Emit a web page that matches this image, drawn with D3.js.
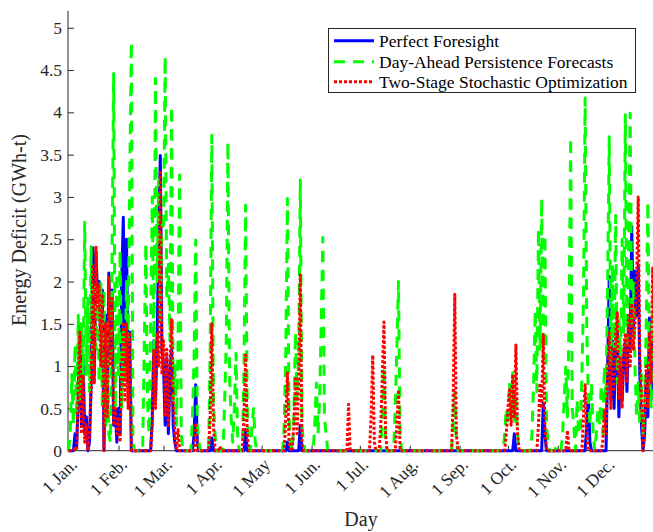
<!DOCTYPE html>
<html>
<head>
<meta charset="utf-8">
<script src="https://cdn.jsdelivr.net/npm/d3@7"></script>
<style>
  html, body { margin: 0; padding: 0; background: #fff; }
  svg { display: block; }
</style>
</head>
<body>
<svg id="chart" width="653" height="532"></svg>
<script>
// ---------------- DATA (day of year, energy deficit in GWh-t) ----------------
const monthTickDays = [1, 32, 60, 91, 121, 152, 182, 213, 244, 274, 305, 335];
const monthTickLabels = ["1 Jan.", "1 Feb.", "1 Mar.", "1 Apr.", "1 May", "1 Jun.", "1 Jul.", "1 Aug.", "1 Sep.", "1 Oct.", "1 Nov.", "1 Dec."];
const yTickValues = [0, 0.5, 1, 1.5, 2, 2.5, 3, 3.5, 4, 4.5, 5];
const seriesNames = ["Perfect Foresight", "Day-Ahead Persistence Forecasts", "Two-Stage Stochastic Optimization"];

const perfectForesight = [
  [1,0],[4,0],[5,0.2],[6,0.05],[7,0.6],[8,1.48],[9,0.3],[10,1.1],[11,0.2],[12,0.4],[13,0],[14,0.1],[15,0.8],[16,2.4],[17,0.9],[18,2.35],[19,1.8],[20,2.0],[21,1.3],[22,1.9],[23,0],[24,1.6],[25,0.5],[26,2.1],[27,1.2],[28,1.9],[29,0.3],[30,0.5],[31,0.1],[32,0.5],[33,0.2],[34,2.0],[35,2.76],[36,1.0],[37,2.5],[38,0.8],[39,1.4],[40,0],
  [52,0],[53,0.4],[54,1.3],[55,0.6],[56,1.3],[57,2.5],[58,3.49],[59,1.2],[60,1.0],[61,0.3],[62,1.1],[63,0.2],[64,0.9],[65,1.2],[66,0.3],[67,0.1],[68,0],
  [78,0],[79,0.2],[80,0.78],[81,0.1],[82,0],
  [89,0],[90,0.15],[91,0],
  [110,0],[111,0.25],[112,0],
  [136,0],[137,0.1],[138,0],
  [144,0],[145,0.3],[146,0],
  [277,0],[278,0.2],[279,0],
  [295,0],[296,0.56],[297,0.2],[298,0],
  [322,0],[323,0.3],[324,0.66],[325,0.1],[326,0],
  [335,0],[336,1.0],[337,2.06],[338,0.6],[339,1.3],[340,0.5],[341,1.2],[342,1.4],[343,0.4],[344,1.0],[345,0.6],[346,1.1],[347,1.3],[348,0.7],[349,1.5],[350,1.2],[351,2.65],[352,1.4],[353,2.12],[354,1.6],[355,2.2],[356,0.9],[357,0.3],[358,0],[359,0.2],[360,0.9],[361,0.4],[362,1.57],[363,0.6],[364,1.4],[365,1.0]
];

const dayAheadPersistence = [
  [1,0],[2,0.2],[3,0.9],[4,0.3],[5,1.25],[6,0.4],[7,1.6],[8,0.6],[9,1.55],[10,0.8],[11,2.7],[12,0.9],[13,1.8],[14,0.7],[15,2.41],[16,1.0],[17,2.0],[18,1.2],[19,1.95],[20,0.8],[21,1.98],[22,0.5],[23,1.9],[24,0.3],[25,1.5],[26,0.2],[27,0.1],[28,2.3],[29,4.46],[30,0.5],[31,2.1],[32,0.9],[33,2.37],[34,0.5],[35,1.4],[36,0.8],[37,2.0],[38,1.3],[39,3.2],[40,4.83],[41,0.1],[42,0],
  [47,0],[48,1.2],[49,2.45],[50,0.6],[51,0.2],[52,1.5],[53,3.0],[54,1.1],[55,4.4],[56,2.0],[57,3.2],[58,1.5],[59,2.7],[60,2.6],[61,4.66],[62,1.8],[63,2.2],[64,1.3],[65,4.07],[66,0.6],[67,1.0],[68,0.3],[69,1.2],[70,3.26],[71,0.2],[72,0],
  [77,0],[78,0.4],[79,1.1],[80,2.49],[81,0.3],[82,0.1],[83,0],
  [88,0],[89,1.2],[90,3.73],[91,0.6],[92,0.2],[93,0],
  [97,0],[98,0.6],[99,1.3],[100,3.65],[101,0.9],[102,0.4],[103,0.1],[104,0.5],[105,1.15],[106,0.2],[107,0],
  [109,0],[110,1.0],[111,2.9],[112,0.5],[113,0.1],[114,0],[115,0.3],[116,0.5],[117,0.1],[118,0],
  [134,0],[135,0.3],[136,1.2],[137,2.98],[138,0.4],[139,0.1],[140,0],[141,0.4],[142,1.4],[143,0.6],[144,1.1],[145,3.2],[146,0.3],[147,0.1],[148,0],
  [153,0],[154,0.3],[155,0.8],[156,0.2],[157,0.6],[158,1.5],[159,2.52],[160,0.4],[161,0.2],[162,0],
  [195,0],[196,0.4],[197,1.0],[198,0.1],[199,0],
  [203,0],[204,0.5],[205,1.2],[206,2.0],[207,0.2],[208,0],
  [239,0],[240,0.3],[241,0.7],[242,0.1],[243,0],
  [271,0],[272,0.2],[273,0.5],[274,0.3],[275,0.8],[276,0.4],[277,0.92],[278,0.3],[279,0.6],[280,0.2],[281,0],
  [288,0],[289,0.2],[290,0.8],[291,1.66],[292,0.7],[293,2.62],[294,1.2],[295,2.98],[296,1.1],[297,2.55],[298,0.3],[299,0.1],[300,0],
  [303,0],[304,0.05],[305,0],
  [307,0],[308,0.2],[309,0.6],[310,0.99],[311,0.4],[312,1.5],[313,3.7],[314,0.5],[315,0.3],[316,0],[317,0.6],[318,0.2],[319,0.2],[320,0.9],[321,1.8],[322,4.17],[323,1.5],[324,0.6],[325,0.3],[326,0.8],[327,0.2],[328,0],
  [329,0.2],[330,0.5],[331,0.3],[332,0.78],[333,0.2],[334,1.0],[335,0.6],[336,2.0],[337,3.71],[338,1.0],[339,2.2],[340,1.2],[341,2.78],[342,0.8],[343,1.6],[344,1.0],[345,2.5],[346,1.4],[347,3.97],[348,1.2],[349,2.4],[350,3.99],[351,1.5],[352,2.0],[353,1.0],[354,0.4],[355,0.8],[356,0.3],[357,0.9],[358,0.2],[359,0.6],[360,1.5],[361,2.94],[362,1.0],[363,0.5],[364,1.8],[365,0.8]
];

const twoStageStochastic = [
  [1,0],[4,0],[5,0.05],[6,0],[7,0.8],[8,1.4],[9,0.2],[10,0.9],[11,0.1],[12,0.3],[13,0],[14,0.2],[15,0.7],[16,2.2],[17,0.8],[18,2.42],[19,1.7],[20,1.95],[21,1.0],[22,1.85],[23,0],[24,1.5],[25,0.4],[26,2.05],[27,1.0],[28,1.8],[29,0.3],[30,0.5],[31,0.2],[32,0.4],[33,0.1],[34,1.0],[35,1.52],[36,0.6],[37,1.5],[38,0.5],[39,1.4],[40,0],
  [52,0],[53,0.3],[54,1.2],[55,0.5],[56,1.4],[57,1.0],[58,3.29],[59,0.9],[60,1.3],[61,0.4],[62,1.2],[63,0.3],[64,1.0],[65,1.55],[66,0.6],[67,0.2],[68,0],[69,0.25],[70,0],
  [79,0],[80,0.33],[81,0],
  [88,0],[89,0.4],[90,1.5],[91,0.3],[92,0],
  [94,0],[95,0.05],[96,0],
  [109,0],[110,0.4],[111,1.13],[112,0.2],[113,0],
  [135,0],[136,0.4],[137,0.92],[138,0.1],[139,0],
  [140,0],[141,0.3],[142,0.85],[143,0.2],[144,0.8],[145,2.08],[146,0.1],[147,0],
  [174,0],[175,0.55],[176,0],
  [188,0],[189,0.4],[190,1.13],[191,0.1],[192,0],
  [194,0],[195,0.3],[196,0.9],[197,1.52],[198,0.2],[199,0],
  [204,0],[205,0.3],[206,0.72],[207,0],
  [239,0],[240,0.6],[241,1.85],[242,0.2],[243,0],
  [272,0],[273,0.2],[274,0.5],[275,0.72],[276,0.3],[277,0.9],[278,0.4],[279,1.25],[280,0.2],[281,0],
  [292,0],[293,0.3],[294,0.8],[295,0.5],[296,1.37],[297,0.3],[298,0],
  [310,0],[311,0.24],[312,0],
  [320,0],[321,0.4],[322,0.78],[323,0.2],[324,0],
  [332,0],[333,0.1],[334,0.48],[335,0.2],[336,0.9],[337,1.39],[338,0.5],[339,1.2],[340,0.7],[341,1.4],[342,1.63],[343,0.6],[344,1.1],[345,0.5],[346,1.2],[347,1.39],[348,0.8],[349,1.6],[350,1.0],[351,1.74],[352,1.2],[353,1.5],[354,2.0],[355,3.0],[356,1.1],[357,0.6],[358,0],[359,0.3],[360,1.0],[361,0.5],[362,1.4],[363,0.8],[364,2.16],[365,1.5]
];

// ---------------- DRAWING ----------------
const FONT = "'Liberation Serif', 'Times New Roman', serif";
const AX = "#262626";
const svg = d3.select("#chart");
svg.append("rect").attr("width", 653).attr("height", 532).attr("fill", "#fff");

const x = d3.scaleLinear().domain([1, 365]).range([68.6, 654.3]);
const y = d3.scaleLinear().domain([0, 5.2]).range([450.7, 10.8]);

// axes (drawn under the data, MATLAB style inward ticks)
const yAxis = d3.axisLeft(y).tickValues(yTickValues).tickFormat(d => String(d))
  .tickSizeInner(-6).tickSizeOuter(0).tickPadding(6);
const gy = svg.append("g").attr("transform", "translate(68,0)").call(yAxis);

const xAxis = d3.axisBottom(x).tickValues(monthTickDays)
  .tickFormat((d, i) => monthTickLabels[i]).tickSizeInner(-5).tickSizeOuter(0);
const gx = svg.append("g").attr("transform", "translate(0,450.7)").call(xAxis);

[gx, gy].forEach(g => {
  g.select(".domain").attr("stroke", AX).attr("stroke-width", 1);
  g.selectAll(".tick line").attr("stroke", AX).attr("stroke-width", 1);
  g.selectAll("text").attr("fill", AX).style("font-family", FONT).style("font-size", "17.5px");
});
gy.select(".domain").attr("d", `M0,${y(5.2)}V${y(0)}`);
gx.select(".domain").attr("d", `M67.5,0H654.3`);
gx.selectAll(".tick text")
  .attr("x", 0).attr("y", 0).attr("dy", null)
  .attr("text-anchor", "end")
  .attr("transform", "translate(9,15) rotate(-45)");

// clip
svg.append("clipPath").attr("id", "plotclip")
  .append("rect").attr("x", 66).attr("y", 0).attr("width", 600).attr("height", 455);

const line = d3.line().x(d => x(d[0])).y(d => y(d[1]));
const plot = svg.append("g").attr("clip-path", "url(#plotclip)");

const styles = [
  { data: perfectForesight, color: "#0000ff", dash: null },
  { data: dayAheadPersistence, color: "#00ff00", dash: "11,8" },
  { data: twoStageStochastic, color: "#ff0000", dash: "3,2" }
];
styles.forEach(s => {
  plot.append("path").datum(s.data)
    .attr("d", line)
    .attr("fill", "none")
    .attr("stroke", s.color)
    .attr("stroke-width", 3)
    .attr("stroke-linejoin", "round")
    .attr("stroke-dasharray", s.dash);
});

// axis titles
svg.append("text").text("Day")
  .attr("x", 361).attr("y", 526).attr("text-anchor", "middle")
  .attr("fill", AX).style("font-family", FONT).style("font-size", "20px");
svg.append("text").text("Energy Deficit (GWh-t)")
  .attr("transform", "translate(26,230) rotate(-90)").attr("text-anchor", "middle")
  .attr("fill", AX).style("font-family", FONT).style("font-size", "20px");

// legend
const lg = svg.append("g");
lg.append("rect").attr("x", 328.5).attr("y", 28.5).attr("width", 307).attr("height", 64)
  .attr("fill", "#fff").attr("stroke", AX).attr("stroke-width", 1);
const rowsY = [40.7, 61.7, 81.7];
styles.forEach((s, i) => {
  lg.append("line").attr("x1", 334).attr("x2", 374).attr("y1", rowsY[i]).attr("y2", rowsY[i])
    .attr("stroke", s.color).attr("stroke-width", 3).attr("stroke-dasharray", s.dash);
  lg.append("text").text(seriesNames[i]).attr("x", 379).attr("y", rowsY[i] + 6)
    .attr("fill", "#000").style("font-family", FONT).style("font-size", "17.5px");
});
</script>
</body>
</html>
